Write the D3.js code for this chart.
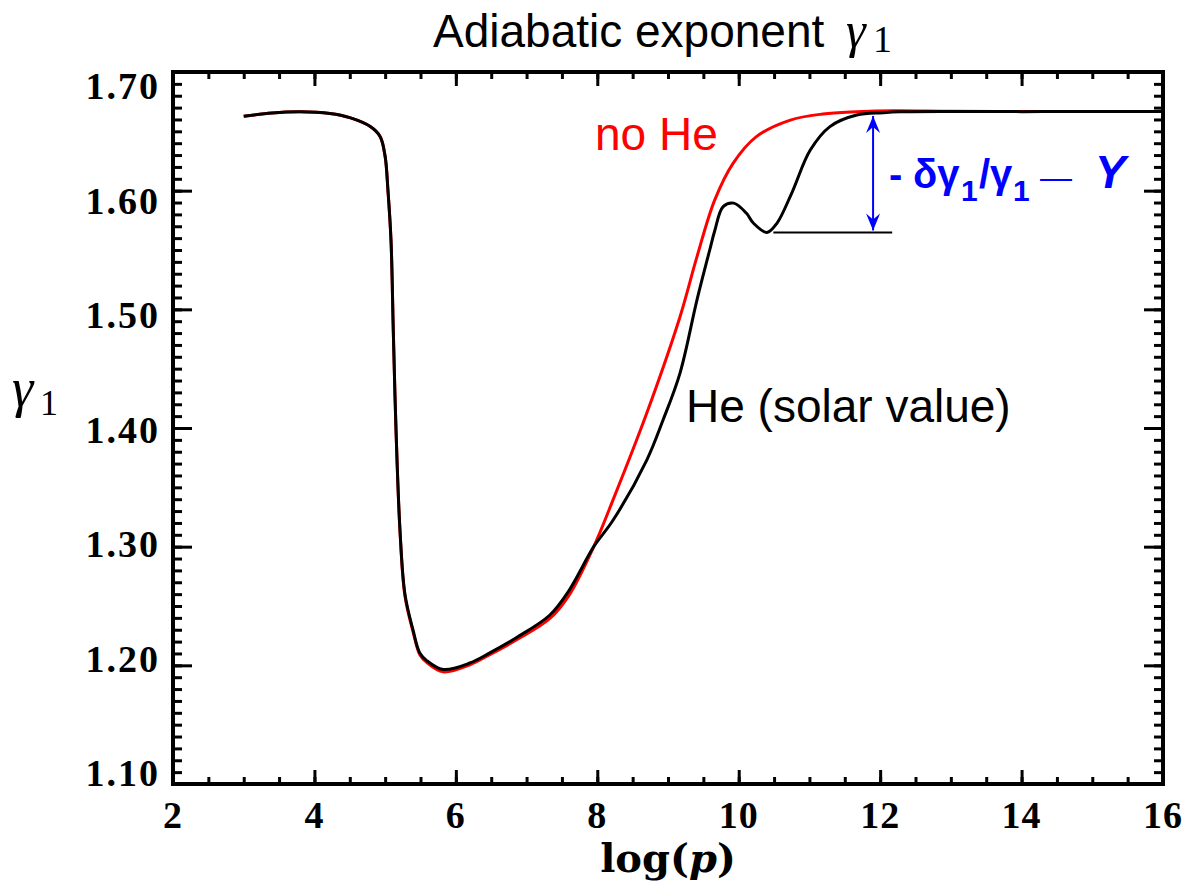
<!DOCTYPE html>
<html>
<head>
<meta charset="utf-8">
<script src="https://cdn.jsdelivr.net/npm/d3@7"></script>
<style>
  body { margin: 0; background: #fff; }
  svg { display: block; }
</style>
</head>
<body>
<script>
// Curve with solar helium abundance (black)
const heLogP = [3.0, 3.4, 3.8, 4.22, 4.5, 4.79, 4.93, 5.0, 5.04, 5.083, 5.115, 5.154, 5.21, 5.28, 5.394, 5.49, 5.588,
  5.82, 6.2, 6.48, 6.86, 7.33, 7.6, 7.95, 8.22, 8.7, 8.93, 9.17, 9.41, 9.59, 9.66, 9.78, 9.93, 10.11, 10.21, 10.4,
  10.54, 10.75, 11.01, 11.29, 11.67, 12.04, 12.28, 13, 14, 15, 16]
const heGamma = [1.6627, 1.6655, 1.6665, 1.665, 1.6615, 1.654, 1.6455, 1.6287, 1.600, 1.558, 1.4826, 1.398, 1.314,
  1.260, 1.2298, 1.2104, 1.2040, 1.1965, 1.2020, 1.2105, 1.2235, 1.2424, 1.263, 1.300, 1.322, 1.373, 1.4067,
  1.4463, 1.508, 1.550, 1.566, 1.5865, 1.5895, 1.5809, 1.5725, 1.5648, 1.5725, 1.598, 1.634, 1.654, 1.6637,
  1.6657, 1.6665, 1.6668, 1.6666, 1.6668, 1.6668]

// Curve without helium (red)
const noHeLogP = [3.0, 3.4, 3.8, 4.22, 4.5, 4.79, 4.93, 5.0, 5.04, 5.083, 5.115, 5.154, 5.21, 5.28, 5.394, 5.49, 5.588,
  5.82, 6.2, 6.48, 6.86, 7.33, 7.6, 7.95, 8.22, 8.7, 9.17, 9.41, 9.66, 9.92, 10.25, 10.73, 11.19, 11.67, 12.18, 13, 14, 15, 16]
const noHeGamma = [1.6627, 1.6655, 1.6665, 1.665, 1.6615, 1.654, 1.6455, 1.6287, 1.600, 1.558, 1.4826, 1.398, 1.313,
  1.2585, 1.2285, 1.209, 1.2025, 1.1945, 1.2005, 1.209, 1.2215, 1.2395, 1.259, 1.300, 1.339, 1.4126, 1.4938, 1.5444,
  1.592, 1.623, 1.6455, 1.6595, 1.6646, 1.6665, 1.6674, 1.6669, 1.6667, 1.6668, 1.6668]

// Ticks
const xTicks = [2, 4, 6, 8, 10, 12, 14, 16]
const yTicks = [1.10, 1.20, 1.30, 1.40, 1.50, 1.60, 1.70]

// Helium depression marker
const dipLevel = 1.5648
const dipLineFrom = 10.49
const dipLineTo = 12.17
const arrowLogP = 11.9
const arrowTopGamma = 1.6655

// Chart settings
const width = 1188
const height = 885
const plotLeft = 173
const plotRight = 1163
const plotTop = 72
const plotBottom = 784
const serif = '"Liberation Serif", "Times New Roman", serif'
const sans = '"Liberation Sans", Arial, sans-serif'

const svg = d3.select('body').append('svg')
  .attr('width', width)
  .attr('height', height)

svg.append('rect')
  .attr('width', width)
  .attr('height', height)
  .attr('fill', '#fff')

// Scales
const xScale = d3.scaleLinear().domain([2, 16]).range([plotLeft, plotRight])
const yScale = d3.scaleLinear().domain([1.10, 1.70]).range([plotBottom, plotTop])
// tick labels sit slightly inside the frame in the original
const yLabelScale = d3.scaleLinear().domain([1.10, 1.70]).range([773, 86])

const xMinor = d3.range(2, 16.001, 0.5)
const yMinor = d3.range(1.10, 1.7001, 0.01)

function drawAxis(axis, tx, ty) {
  const g = svg.append('g')
    .attr('transform', `translate(${tx}, ${ty})`)
    .call(axis)
  g.select('.domain').remove()
  g.selectAll('line').attr('stroke', '#000').attr('stroke-width', 3)
  return g
}

// Bottom and top axes (ticks point inward)
drawAxis(d3.axisBottom(xScale).tickValues(xTicks).tickSizeInner(-14).tickSizeOuter(0).tickFormat(''), 0, plotBottom)
drawAxis(d3.axisBottom(xScale).tickValues(xMinor).tickSizeInner(-7).tickSizeOuter(0).tickFormat(''), 0, plotBottom)
drawAxis(d3.axisTop(xScale).tickValues(xTicks).tickSizeInner(-14).tickSizeOuter(0).tickFormat(''), 0, plotTop)
drawAxis(d3.axisTop(xScale).tickValues(xMinor).tickSizeInner(-7).tickSizeOuter(0).tickFormat(''), 0, plotTop)

// Left and right axes
drawAxis(d3.axisLeft(yScale).tickValues(yTicks).tickSizeInner(-19).tickSizeOuter(0).tickFormat(''), plotLeft, 0)
drawAxis(d3.axisLeft(yScale).tickValues(yMinor).tickSizeInner(-9).tickSizeOuter(0).tickFormat(''), plotLeft, 0)
drawAxis(d3.axisRight(yScale).tickValues(yTicks).tickSizeInner(-19).tickSizeOuter(0).tickFormat(''), plotRight, 0)
drawAxis(d3.axisRight(yScale).tickValues(yMinor).tickSizeInner(-9).tickSizeOuter(0).tickFormat(''), plotRight, 0)

// Frame
svg.append('rect')
  .attr('x', plotLeft)
  .attr('y', plotTop)
  .attr('width', plotRight - plotLeft)
  .attr('height', plotBottom - plotTop)
  .attr('fill', 'none')
  .attr('stroke', '#000')
  .attr('stroke-width', 4)

// Tick labels
svg.append('g').selectAll('text')
  .data(xTicks)
  .enter()
  .append('text')
  .attr('x', d => xScale(d))
  .attr('y', 828)
  .attr('text-anchor', 'middle')
  .style('font-family', serif)
  .style('font-weight', 'bold')
  .style('font-size', '38px')
  .style('letter-spacing', '1px')
  .text(d => d)

svg.append('g').selectAll('text')
  .data(yTicks)
  .enter()
  .append('text')
  .attr('x', 160)
  .attr('y', d => yLabelScale(d))
  .attr('dy', '0.35em')
  .attr('text-anchor', 'end')
  .style('font-family', serif)
  .style('font-weight', 'bold')
  .style('font-size', '38px')
  .style('letter-spacing', '2px')
  .text(d => d3.format('.2f')(d))

// Axis titles
const xTitle = svg.append('text')
  .attr('x', 668)
  .attr('y', 872)
  .attr('text-anchor', 'middle')
  .style('font-family', '"DejaVu Serif", serif')
  .style('font-weight', 'bold')
  .style('font-size', '40px')
xTitle.append('tspan').text('log(')
xTitle.append('tspan').style('font-style', 'italic').text('p')
xTitle.append('tspan').text(')')

const yTitle = svg.append('text')
  .attr('x', 12)
  .attr('y', 406)
  .style('font-family', serif)
yTitle.append('tspan').style('font-style', 'italic').style('font-size', '54px').text('γ')
yTitle.append('tspan').attr('x', 40).attr('y', 415).style('font-size', '36px').text('1')

// Title
const title = svg.append('text')
  .attr('x', 433)
  .attr('y', 47)
  .style('font-family', sans)
  .style('font-size', '46px')
title.append('tspan').text('Adiabatic exponent')
title.append('tspan').attr('x', 846).attr('y', 47).style('font-family', serif)
  .style('font-style', 'italic').style('font-size', '50px').text('γ')
title.append('tspan').attr('x', 873).attr('y', 52).style('font-family', serif)
  .style('font-size', '38px').text('1')

// Curves
const line = d3.line()
  .x(d => xScale(d[0]))
  .y(d => yScale(d[1]))
  .curve(d3.curveCatmullRom.alpha(0.5))

svg.append('path')
  .datum(d3.zip(noHeLogP, noHeGamma))
  .attr('d', line)
  .attr('fill', 'none')
  .attr('stroke', '#ff0000')
  .attr('stroke-width', 3)

svg.append('path')
  .datum(d3.zip(heLogP, heGamma))
  .attr('d', line)
  .attr('fill', 'none')
  .attr('stroke', '#000')
  .attr('stroke-width', 3)

// Depression marker
svg.append('line')
  .attr('x1', xScale(dipLineFrom))
  .attr('x2', xScale(dipLineTo))
  .attr('y1', yScale(dipLevel))
  .attr('y2', yScale(dipLevel))
  .attr('stroke', '#000')
  .attr('stroke-width', 2)

svg.append('defs').append('marker')
  .attr('id', 'arrow')
  .attr('viewBox', '-18 -8 20 16')
  .attr('refX', 0)
  .attr('refY', 0)
  .attr('markerWidth', 20)
  .attr('markerHeight', 16)
  .attr('markerUnits', 'userSpaceOnUse')
  .attr('orient', 'auto-start-reverse')
  .append('path')
  .attr('d', 'M0,0 L-17,-7 L-11,0 L-17,7 Z')
  .attr('fill', '#0000ff')

svg.append('line')
  .attr('x1', xScale(arrowLogP))
  .attr('x2', xScale(arrowLogP))
  .attr('y1', yScale(arrowTopGamma) + 3)
  .attr('y2', yScale(dipLevel) - 2)
  .attr('stroke', '#0000ff')
  .attr('stroke-width', 2)
  .attr('marker-start', 'url(#arrow)')
  .attr('marker-end', 'url(#arrow)')

// Blue label
const blue = svg.append('text')
  .attr('y', 188)
  .style('font-family', sans)
  .style('font-weight', 'bold')
  .style('font-size', '40px')
  .attr('fill', '#0000ff')
blue.append('tspan').attr('x', 889).text('-')
blue.append('tspan').attr('x', 913).text('δγ')
blue.append('tspan').attr('x', 961).attr('y', 201).style('font-size', '30px').text('1')
blue.append('tspan').attr('x', 979).attr('y', 188).text('/γ')
blue.append('tspan').attr('x', 1013).attr('y', 201).style('font-size', '30px').text('1')
blue.append('tspan').attr('x', 1040).attr('y', 188).style('font-weight', 'normal').style('font-size', '32px').text('—')
blue.append('tspan').attr('x', 1095).style('font-style', 'italic').style('font-size', '46px').text('Y')

// Curve labels
svg.append('text')
  .attr('x', 595)
  .attr('y', 150)
  .attr('fill', '#ff0000')
  .style('font-family', sans)
  .style('font-size', '46px')
  .text('no He')

svg.append('text')
  .attr('x', 686)
  .attr('y', 422)
  .attr('fill', '#000')
  .style('font-family', sans)
  .style('font-size', '46px')
  .text('He (solar value)')
</script>
</body>
</html>
